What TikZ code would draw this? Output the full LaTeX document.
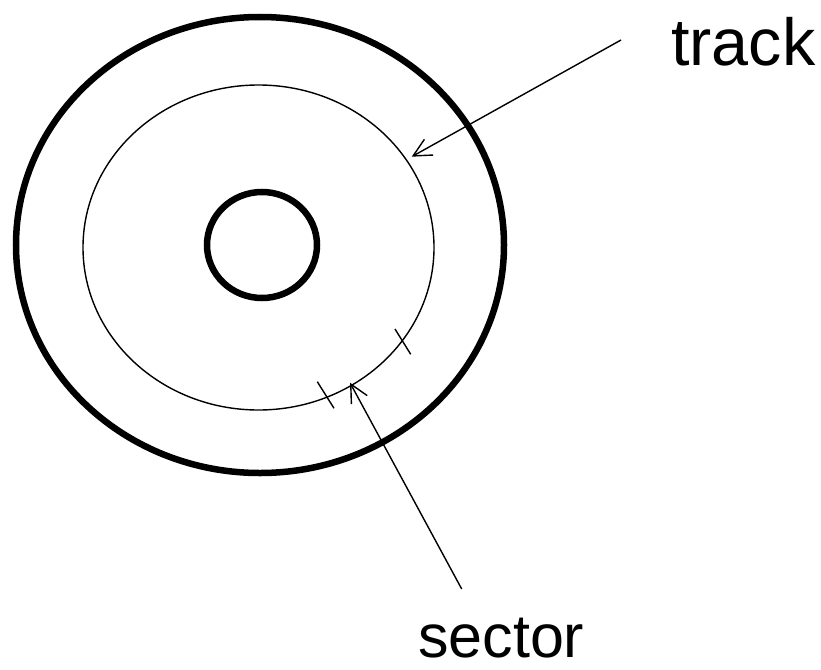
\documentclass[tikz,border=0pt]{standalone}
\usepackage{fontspec}
\setmainfont{Liberation Sans}
\usetikzlibrary{arrows.meta}
\begin{document}
\begin{tikzpicture}[
        x=1pt, y=-1pt,
        thick ring/.style={line width=6.5pt},
        thin ring/.style={line width=1.4pt},
        pointer/.style={line width=1.4pt, -{Straight Barb[length=18pt,width=18pt,line width=1.4pt]}},
        tick/.style={line width=1.4pt},
        every node/.style={inner sep=0pt, anchor=base west}]
        \useasboundingbox (0,0) rectangle (821,669);

        \draw[thick ring] (260,245) ellipse [x radius=244, y radius=228];
        \draw[thin ring] (258.5,247.5) ellipse [x radius=175.5, y radius=162.5];
        \draw[thick ring] (262,245) ellipse [x radius=55, y radius=53];

        \coordinate (T1a) at (395,329);
        \coordinate (T1b) at (410.7,354.3);
        \coordinate (T2a) at (317.3,381.7);
        \coordinate (T2b) at (334,408.3);
        \draw[tick] (T1a) -- (T1b);
        \draw[tick] (T2a) -- (T2b);

        \node[font=\fontsize{66.5}{70}\selectfont] (track) at (671,65) {track};
        \node[font=\fontsize{61}{66}\selectfont] (sector) at (418,657) {sector};

        \coordinate (trackfrom) at (621,40);
        \coordinate (trackto) at (411.7,156.7);
        \coordinate (sectorfrom) at (461.7,589);
        \coordinate (sectorto) at (350,382.7);
        \draw[pointer] (trackfrom) -- (trackto);
        \draw[pointer] (sectorfrom) -- (sectorto);
    \end{tikzpicture}
\end{document}
